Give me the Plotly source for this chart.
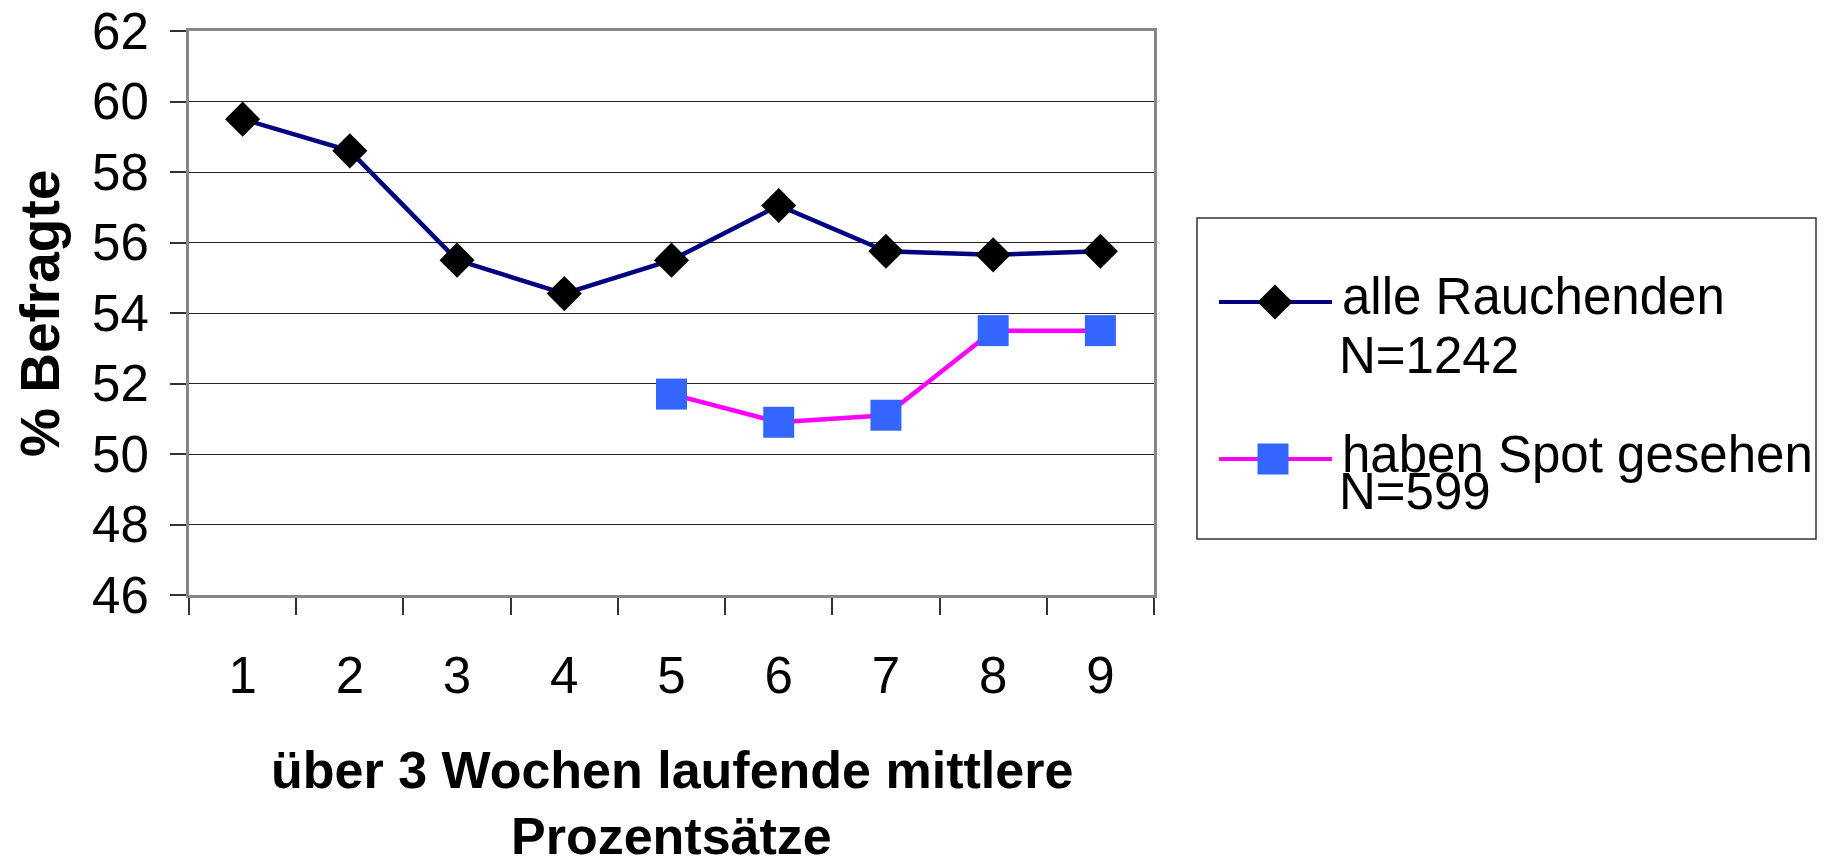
import plotly.graph_objects as go

# Data: three-week running mean percentages
periods = ["1", "2", "3", "4", "5", "6", "7", "8", "9"]
alle_rauchenden = [59.5, 58.6, 55.5, 54.55, 55.5, 57.05, 55.75, 55.65, 55.75]
spot_gesehen = [None, None, None, None, 51.7, 50.9, 51.1, 53.5, 53.5]

name_alle = "alle Rauchenden"
n_alle = "N=1242"
name_spot = "haben Spot gesehen"
n_spot = "N=599"

y_title = "% Befragte"
x_title_1 = "über 3 Wochen laufende mittlere"
x_title_2 = "Prozentsätze"

W, H = 1825, 868
FONT = "Liberation Sans, Arial, sans-serif"
NAVY = "#000080"
MAGENTA = "#FF00FF"
BLUE = "#3366FF"
FRAME = "#878787"

# plot area in pixels
PL, PR, PT, PB = 189, 1154, 31, 595

fig = go.Figure()

fig.add_trace(go.Scatter(
    x=periods, y=alle_rauchenden, mode="lines+markers",
    line=dict(color=NAVY, width=4.5),
    marker=dict(symbol="diamond", size=27, color="black"),
    showlegend=False, xaxis="x", yaxis="y", cliponaxis=False,
))
fig.add_trace(go.Scatter(
    x=periods, y=spot_gesehen, mode="lines+markers",
    line=dict(color=MAGENTA, width=4.5),
    marker=dict(symbol="square", size=31, color=BLUE),
    showlegend=False, xaxis="x", yaxis="y", cliponaxis=False,
))

# legend samples, drawn on a full-page pixel overlay
LEG_X0, LEG_X1 = 1219, 1332
for y_leg, x_mark, lc, sym, sz, mc in [(302, 1275, NAVY, "diamond", 27, "black"),
                                       (459, 1273, MAGENTA, "square", 31, BLUE)]:
    fig.add_trace(go.Scatter(
        x=[LEG_X0, LEG_X1], y=[y_leg, y_leg], mode="lines",
        line=dict(color=lc, width=4), showlegend=False,
        xaxis="x2", yaxis="y2", hoverinfo="skip",
    ))
    fig.add_trace(go.Scatter(
        x=[x_mark], y=[y_leg], mode="markers",
        marker=dict(symbol=sym, size=sz, color=mc), showlegend=False,
        xaxis="x2", yaxis="y2", hoverinfo="skip", cliponaxis=False,
    ))

fig.add_shape(type="rect", xref="x2", yref="y2", x0=1197, x1=1816, y0=218, y1=539,
              line=dict(color="#333333", width=1.5), fillcolor="rgba(0,0,0,0)", layer="below")

ann = []
def txt(s, x, y, size, bold=False, xanchor="left", angle=0):
    ann.append(dict(text=f"<b>{s}</b>" if bold else s, x=x, y=y, xref="x2", yref="y2",
                    xanchor=xanchor, yanchor="middle", showarrow=False, textangle=angle,
                    font=dict(family=FONT, size=size, color="black")))

txt(name_alle, 1340, 296, 51)
txt(n_alle, 1337, 355, 51)
txt(name_spot, 1340, 454, 51)
txt(n_spot, 1337, 491, 51)
txt(y_title, 40, 314, 55, bold=True, xanchor="center", angle=-90)
txt(x_title_1, (PL + PR) / 2, 770, 52, bold=True, xanchor="center")
txt(x_title_2, (PL + PR) / 2, 836, 52, bold=True, xanchor="center")

fig.update_layout(
    width=W, height=H,
    margin=dict(l=0, r=0, t=0, b=0, pad=0, autoexpand=False),
    paper_bgcolor="white", plot_bgcolor="rgba(0,0,0,0)",
    font=dict(family=FONT, color="black"),
    annotations=ann,
    xaxis=dict(
        type="category", categoryorder="array", categoryarray=periods,
        range=[-0.5, len(periods) - 0.5],
        domain=[PL / W, PR / W], anchor="y", automargin=False,
        tickson="boundaries", ticks="outside", ticklen=17, tickwidth=1.5, tickcolor="#333333",
        showline=True, linecolor=FRAME, linewidth=3, mirror=True,
        showgrid=False, zeroline=False,
        tickfont=dict(family=FONT, size=51, color="black"),
        ticklabelstandoff=34,
    ),
    yaxis=dict(
        range=[46, 62], dtick=2, tick0=46,
        domain=[1 - PB / H, 1 - PT / H], anchor="x", automargin=False,
        ticks="outside", ticklen=16, tickwidth=1.5, tickcolor="#333333",
        showline=True, linecolor=FRAME, linewidth=3, mirror=True,
        showgrid=True, gridcolor="#222222", gridwidth=1.2, zeroline=False,
        tickfont=dict(family=FONT, size=51, color="black"),
        ticklabelstandoff=11,
    ),
    xaxis2=dict(domain=[0, 1], range=[0, W], anchor="y2", visible=False,
                fixedrange=True, automargin=False),
    yaxis2=dict(domain=[0, 1], range=[H, 0], anchor="x2", visible=False,
                fixedrange=True, automargin=False),
)

fig.write_html("out.html")
